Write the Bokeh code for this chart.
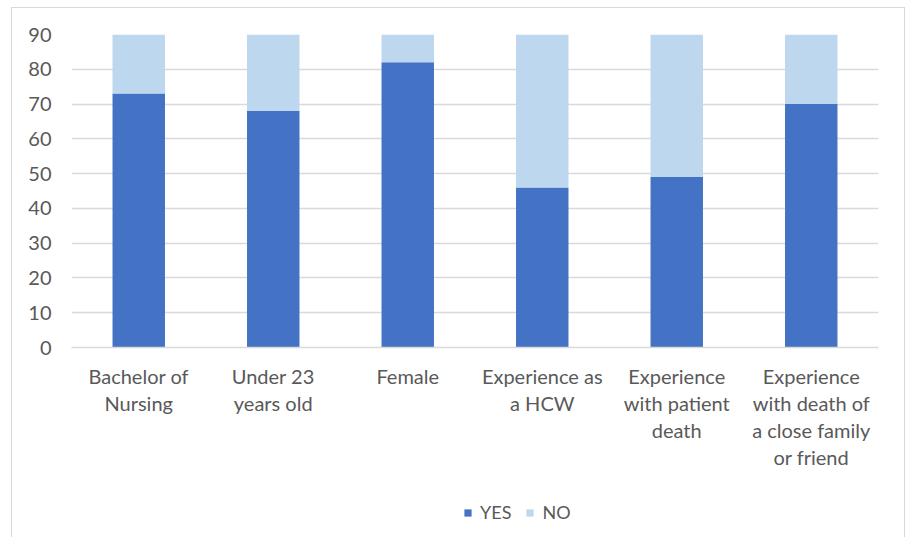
from bokeh.plotting import figure
from bokeh.layouts import column
from bokeh.models import Range1d, FixedTicker, Legend, LegendItem, ColumnDataSource
from bokeh.embed import file_html
from bokeh.resources import INLINE

category_labels = [
    "Bachelor of\nNursing",
    "Under 23\nyears old",
    "Female",
    "Experience as\na HCW",
    "Experience\nwith patient\ndeath",
    "Experience\nwith death of\na close family\nor friend",
]
yes_values = [73, 68, 82, 46, 49, 70]
no_values = [27, 32, 18, 54, 51, 30]
y_ticks = [0, 10, 20, 30, 40, 50, 60, 70, 80, 90]
series_names = ["YES", "NO"]

YES_COLOR = "#4472C4"
NO_COLOR = "#BDD7EE"
TEXT_COLOR = "#595959"
GRID_COLOR = "#D9D9D9"
FONT = "Lato"

source = ColumnDataSource(dict(cat=category_labels, YES=yes_values, NO=no_values))

p = figure(
    x_range=category_labels,
    y_range=Range1d(0, 90),
    width=892,
    height=472,
    output_backend="svg",
    toolbar_location=None,
    min_border_left=59,
    min_border_right=26,
    min_border_top=26,
    min_border_bottom=133,
)
p.outline_line_color = None
p.background_fill_color = "white"
p.border_fill_color = "white"

p.vbar_stack(
    series_names,
    x="cat",
    width=0.39,
    color=[YES_COLOR, NO_COLOR],
    line_color=None,
    source=source,
)

# y axis
p.yaxis.ticker = FixedTicker(ticks=y_ticks)
p.yaxis.axis_line_color = None
p.yaxis.major_tick_line_color = None
p.yaxis.minor_tick_line_color = None
p.yaxis.major_label_text_color = TEXT_COLOR
p.yaxis.major_label_text_font = FONT
p.yaxis.major_label_text_font_size = "20px"
p.yaxis.major_label_standoff = 14

# x axis
p.xaxis.axis_line_color = GRID_COLOR
p.xaxis.axis_line_width = 1.5
p.xaxis.major_tick_line_color = None
p.xaxis.minor_tick_line_color = None
p.xaxis.major_label_text_color = TEXT_COLOR
p.xaxis.major_label_text_font = FONT
p.xaxis.major_label_text_font_size = "20px"
p.xaxis.major_label_text_line_height = 1.13
p.xaxis.major_label_standoff = 10

p.xgrid.grid_line_color = None
p.ygrid.grid_line_color = GRID_COLOR
p.ygrid.grid_line_width = 1.5

# legend strip below the chart (its bars are hidden out of its visible range)
lg = figure(
    x_range=category_labels,
    y_range=Range1d(-2000, -1000),
    width=892,
    height=57,
    output_backend="svg",
    toolbar_location=None,
    x_axis_location=None,
    y_axis_location=None,
    min_border_left=0,
    min_border_right=0,
    min_border_top=0,
    min_border_bottom=0,
)
lg.outline_line_color = None
lg.xgrid.grid_line_color = None
lg.ygrid.grid_line_color = None
lg.border_fill_color = "white"
lg_renderers = lg.vbar_stack(
    series_names,
    x="cat",
    width=0.001,
    color=[YES_COLOR, NO_COLOR],
    line_color=None,
    source=source,
)

legend = Legend(
    items=[
        LegendItem(label=series_names[0], renderers=[lg_renderers[0]]),
        LegendItem(label=series_names[1], renderers=[lg_renderers[1]]),
    ],
    orientation="horizontal",
    location=(392, 14),
    label_text_font=FONT,
    label_text_font_size="18px",
    label_text_color=TEXT_COLOR,
    glyph_width=9,
    glyph_height=9,
    label_standoff=8,
    spacing=14,
    border_line_color=None,
    background_fill_alpha=0,
    margin=0,
    padding=4,
)
lg.add_layout(legend)

layout = column(p, lg, spacing=0)
layout.styles = {
    "margin-left": "11px",
    "margin-top": "7px",
    "border-left": "1px solid #D9D9D9",
    "border-top": "1px solid #D9D9D9",
    "border-right": "1px solid #D9D9D9",
}

open("out.html", "w").write(file_html(layout, INLINE))
